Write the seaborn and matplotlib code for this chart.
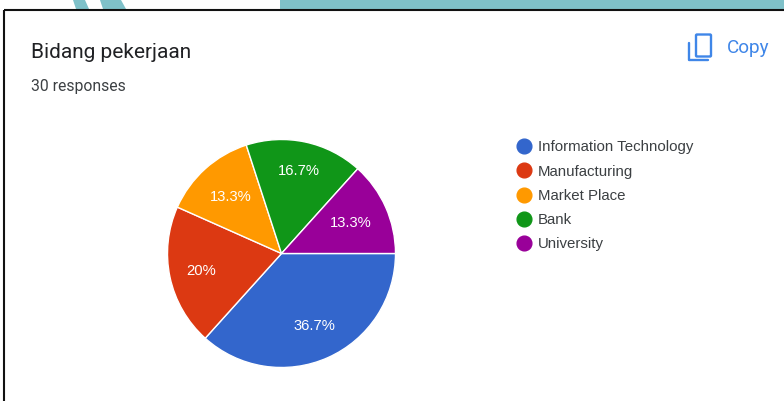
import matplotlib
matplotlib.use('Agg')
import matplotlib.pyplot as plt
from matplotlib.lines import Line2D
from matplotlib.patches import Polygon, Rectangle, FancyBboxPatch
import numpy as np
import seaborn as sns

# data
categories = ['Information Technology', 'Manufacturing', 'Market Place', 'Bank', 'University']
responses = [11, 6, 4, 5, 4]
pct_labels = ['36.7%', '20%', '13.3%', '16.7%', '13.3%']
colors = ['#3366cc', '#dc3912', '#ff9900', '#109618', '#990099']

title_text = 'Bidang pekerjaan'
sub_text = '30 responses'

sns.set_theme(style='white')
W, H = 784, 401
fig = plt.figure(figsize=(W / 100, H / 100), dpi=100, facecolor='white')

# page background in pixel coords
bg = fig.add_axes([0, 0, 1, 1])
bg.set_xlim(0, W)
bg.set_ylim(H, 0)
bg.axis('off')

teal = '#7fc1c9'
bg.add_patch(Rectangle((280, 0), 504, 9, color=teal, lw=0))
bg.add_patch(Polygon([(73, 0), (85, 0), (89, 9), (76, 9)], color=teal, lw=0))
bg.add_patch(Polygon([(100, 0), (121, 0), (126, 9), (103, 9)], color=teal, lw=0))
bg.plot([4.5, 4.5], [9.5, H], color='#111111', lw=1.5, solid_capstyle='butt')
bg.plot([4, W], [10, 10], color='#111111', lw=1.5, solid_capstyle='butt')

bg.text(31, 52, title_text, fontsize=15, family='Roboto', color='#202124', va='center')
bg.text(31, 86, sub_text, fontsize=11.3, family='Roboto', color='#3c4043', va='center')

# copy icon
blue = '#3f86e8'
bg.add_patch(FancyBboxPatch((696, 34.5), 15, 22, boxstyle='round,pad=0,rounding_size=1',
                            fc='none', ec=blue, lw=1.7))
bg.plot([689, 689, 708], [43, 60, 60], color=blue, lw=1.7)
bg.text(727, 48, 'Copy', fontsize=13.6, family='Roboto', color=blue, va='center')

# pie
cx, cy, r = 281.5, 253.5, 114
pie_ax = fig.add_axes([(cx - r) / W, 1 - (cy + r) / H, 2 * r / W, 2 * r / H])
wedges, _ = pie_ax.pie(responses, colors=colors, startangle=0, counterclock=False, radius=1,
                       wedgeprops={'edgecolor': 'white', 'linewidth': 1})
pie_ax.set_xlim(-1, 1)
pie_ax.set_ylim(-1, 1)

# google puts the labels at slightly different distances
label_r = [0.70, 0.72, 0.67, 0.74, 0.665]
total = sum(responses)
start = 0
for val, lab, lr in zip(responses, pct_labels, label_r):
    mid = np.deg2rad(-(start + val / 2) / total * 360)
    pie_ax.text(lr * np.cos(mid), lr * np.sin(mid), lab, color='white', fontsize=10.6,
                family='Liberation Sans', ha='center', va='center')
    start += val

# legend
handles = [Line2D([], [], marker='o', ls='', ms=10.6, color=c) for c in colors]
leg = fig.legend(handles, categories, loc='upper left', bbox_to_anchor=(512 / W, 1 - 140.5 / H),
                 bbox_transform=fig.transFigure, frameon=False, handletextpad=0.13,
                 labelspacing=0.68, borderpad=0, borderaxespad=0,
                 prop={'family': 'Liberation Sans', 'size': 10.8}, handlelength=1.6)
for t in leg.get_texts():
    t.set_color('#3c4043')

fig.savefig('out.png', dpi=100)
